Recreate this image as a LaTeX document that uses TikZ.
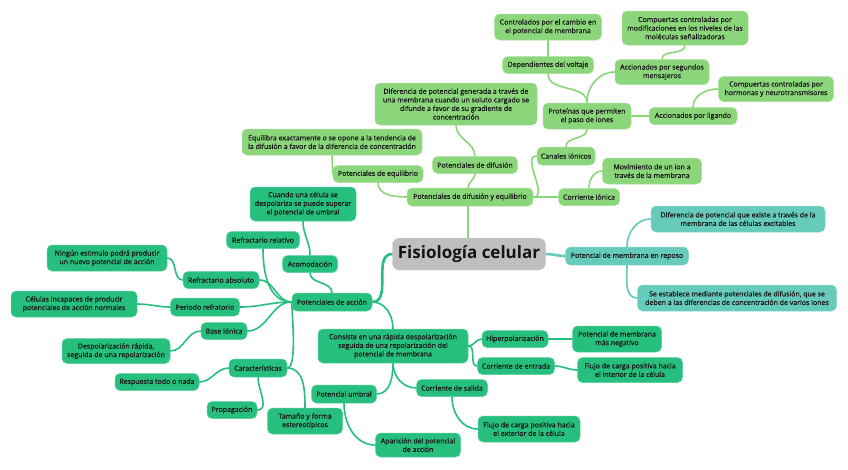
\documentclass[tikz,border=0pt]{standalone}
\usepackage{fontspec}
\setmainfont{Open Sans}
\newfontfamily\nodefont{Open Sans}[FakeBold=0.35]
\usetikzlibrary{backgrounds}
\definecolor{lgreen}{HTML}{8BD67B}
\definecolor{tealc}{HTML}{66CBBA}
\definecolor{greenc}{HTML}{26BF7E}
\definecolor{grayc}{HTML}{BFBFBF}
\definecolor{txt}{HTML}{141414}
\tikzset{
  box/.style={rounded corners=5pt, align=center, inner sep=1pt, text=txt,
    font=\nodefont\fontsize{7}{8.6}\selectfont},
  lgbox/.style={box, fill=lgreen, draw=lgreen!75!white, line width=0.5pt},
  tlbox/.style={box, fill=tealc, draw=tealc!75!white, line width=0.5pt},
  grbox/.style={box, fill=greenc, draw=greenc!75!white, line width=0.5pt},
  cenbox/.style={box, fill=grayc, draw=grayc!75!white, rounded corners=7pt,
    font=\fontsize{17}{20}\selectfont\bfseries},
  lgl/.style={draw=lgreen, line width=1.6pt, line cap=round},
  tll/.style={draw=tealc, line width=1.6pt, line cap=round},
  grl/.style={draw=greenc, line width=1.6pt, line cap=round},
  sz/.style 2 args={minimum width=#1pt, minimum height=#2pt}
}
\begin{document}
\begin{tikzpicture}[x=1pt,y=-1pt]
\useasboundingbox (0,0) rectangle (848,469);

% center
\node[cenbox, sz={153}{32}] (cen) at (469,254) {Fisiología celular};

% light green branch
\node[lgbox, sz={107}{26}] (ctrl) at (548,27) {Controlados por el cambio en\\el potencial de membrana};
\node[lgbox, sz={126}{34}] (cmod) at (685,28) {Compuertas controladas por\\modificaciones en los niveles de las\\moléculas señalizadoras};
\node[lgbox, sz={91}{17}] (dep) at (548,65) {Dependientes del voltaje};
\node[lgbox, sz={94}{25}] (acs) at (662,72) {Accionados por segundos\\mensajeros};
\node[lgbox, sz={115}{25}] (chor) at (776,89) {Compuertas controladas por\\hormonas y neurotransmisores};
\node[lgbox, sz={162}{42}] (difg) at (456,104) {Diferencia de potencial generada a través de\\una membrana cuando un soluto cargado se\\difunde a favor de su gradiente de\\concentración};
\node[lgbox, sz={88}{26}] (prot) at (587,116) {Proteínas que permiten\\el paso de iones};
\node[lgbox, sz={88}{17}] (acl) at (693,116) {Accionados por ligando};
\node[lgbox, sz={180}{26}] (eq) at (332,142) {Equilibra exactamente o se opone a la tendencia de\\la difusión a favor de la diferencia de concentración};
\node[lgbox, sz={90}{17}] (pe) at (378,174) {Potenciales de equilibrio};
\node[lgbox, sz={85}{17}] (pd) at (475,165) {Potenciales de difusión};
\node[lgbox, sz={58}{18}] (can) at (566,156) {Canales iónicos};
\node[lgbox, sz={126}{18}] (pde) at (470,197) {Potenciales de difusión y equilibrio};
\node[lgbox, sz={61}{17}] (cor) at (589,197) {Corriente iónica};
\node[lgbox, sz={99}{26}] (mov) at (652,171) {Movimiento de un ion a\\través de la membrana};

% teal branch
\node[tlbox, sz={174}{26}] (dex) at (738,219) {Diferencia de potencial que existe a través de la\\membrana de las células excitables};
\node[tlbox, sz={123}{18}] (pmr) at (627,256) {Potencial de membrana en reposo};
\node[tlbox, sz={199}{26}] (ses) at (737,298) {Se establece mediante potenciales de difusión, que se\\deben a las diferencias de concentración de varios iones};

% green branch
\node[grbox, sz={106}{34}] (cuando) at (303,204) {Cuando una célula se\\despolariza se puede superar\\el potencial de umbral};
\node[grbox, sz={73}{17}] (rrel) at (263,240) {Refractario relativo};
\node[grbox, sz={120}{26}] (ning) at (107,258) {Ningún estimulo podrá producir\\un nuevo potencial de acción};
\node[grbox, sz={55}{17}] (aco) at (310,264) {Acomodación};
\node[grbox, sz={76}{17}] (rabs) at (221,280) {Refractario absoluto};
\node[grbox, sz={126}{26}] (cel) at (74,304) {Células incapaces de producir\\potenciales de acción normales};
\node[grbox, sz={69}{18}] (per) at (205,307) {Periodo refratorio};
\node[grbox, sz={80}{18}] (pa) at (332,302) {Potenciales de acción};
\node[grbox, sz={46}{17}] (base) at (224,331) {Base iónica};
\node[grbox, sz={108}{25}] (desp) at (116,351) {Despolarización rápida,\\seguida de una repolarización};
\node[grbox, sz={150}{34}] (cons) at (393,346) {Consiste en una rápida despolarización\\seguida de una repolarización del\\potencial de membrana};
\node[grbox, sz={66}{17}] (hip) at (515,339) {Hiperpolarización};
\node[grbox, sz={89}{26}] (pmn) at (617,339) {Potencial de membrana\\más negativo};
\node[grbox, sz={77}{17}] (cent) at (516,366) {Corriente de entrada};
\node[grbox, sz={105}{25}] (fin) at (630,370) {Flujo de carga positiva hacia\\el interior de la célula};
\node[grbox, sz={71}{17}] (csal) at (452,388) {Corriente de salida};
\node[grbox, sz={65}{18}] (pum) at (344,394) {Potencial umbral};
\node[grbox, sz={102}{26}] (fex) at (529,429) {Flujo de carga positiva hacia\\el exterior de la célula};
\node[grbox, sz={85}{24}] (apa) at (418,445) {Aparición del potencial\\de acción};
\node[grbox, sz={75}{26}] (tam) at (305,421) {Tamaño y forma\\estereotípicos};
\node[grbox, sz={58}{18}] (car) at (258,368) {Características};
\node[grbox, sz={84}{17}] (resp) at (157,382) {Respuesta todo o nada};
\node[grbox, sz={50}{17}] (prop) at (232,410) {Propagación};

\begin{scope}[on background layer]
\fill[white] (0,0) rectangle (848,469);
% light green
\draw[lgl, line width=2.6pt] ([xshift=-1pt]cen.north) -- ([xshift=-2pt]pde.south);
\draw[lgl] ([xshift=-2pt]pde.north) to[out=90,in=-90] (pd.south);
\draw[lgl] (pde.west) to[out=180,in=-90] (pe.south);
\draw[lgl] (pe.west) to[out=90,in=-90] (eq.south);
\draw[lgl] (pd.north) to[out=90,in=-90] (difg.south);
\draw[lgl] (pde.east) -- (cor.west);
\draw[lgl] (pde.east) to[out=0,in=180] (can.west);
\draw[lgl] (can.north) to[out=90,in=-90] (prot.south);
\draw[lgl] (cor.north) to[out=90,in=180] (mov.west);
\draw[lgl] (prot.north) to[out=90,in=-90] (dep.south);
\draw[lgl] (prot.north) to[out=90,in=180] (acs.west);
\draw[lgl] (prot.east) -- (acl.west);
\draw[lgl] (dep.north) -- (ctrl.south);
\draw[lgl] (acs.north) to[out=90,in=-90] (cmod.south);
\draw[lgl] (acl.north) to[out=90,in=180] (chor.west);
% teal
\draw[tll, line width=2.6pt] (cen.east) to[out=0,in=180] (pmr.west);
\draw[tll] (pmr.north) to[out=90,in=180] (dex.west);
\draw[tll] (pmr.south) to[out=-90,in=180] (ses.west);
% green
\draw[grl, line width=2.6pt] (cen.west) to[out=180,in=0] (pa.east);
\draw[grl] (pa.north) to[out=90,in=-90] (aco.south);
\draw[grl] (aco.north) to[out=90,in=-90] (cuando.south);
\draw[grl] (pa.west) to[out=180,in=-90] (rrel.south);
\draw[grl] (pa.west) to[out=180,in=0] (rabs.east);
\draw[grl] (pa.west) to[out=180,in=0] (per.east);
\draw[grl] (pa.west) to[out=180,in=0] (base.east);
\draw[grl] (pa.west) to[out=-90,in=0,looseness=0.4] (car.east);
\draw[grl] (car.east) to[out=0,in=90] (tam.north);
\draw[grl] (car.west) to[out=180,in=0] (resp.east);
\draw[grl] (car.south) to[out=-90,in=0] (prop.east);
\draw[grl] (base.west) to[out=180,in=0] (desp.east);
\draw[grl] (rabs.west) to[out=180,in=0] (ning.east);
\draw[grl] (per.west) to[out=180,in=0] (cel.east);
\draw[grl] (pa.east) to[out=0,in=90] (cons.north);
\draw[grl] (cons.east) to[out=0,in=180] (hip.west);
\draw[grl] (cons.east) to[out=0,in=180] (cent.west);
\draw[grl] (cons.south) to[out=-90,in=180] (csal.west);
\draw[grl] (cons.south) to[out=-90,in=0] (pum.east);
\draw[grl] (hip.east) -- (pmn.west);
\draw[grl] (cent.east) to[out=0,in=180] (fin.west);
\draw[grl] (csal.south) to[out=-90,in=180] (fex.west);
\draw[grl] (pum.south) to[out=-90,in=180] (apa.west);
\end{scope}
\end{tikzpicture}
\end{document}
